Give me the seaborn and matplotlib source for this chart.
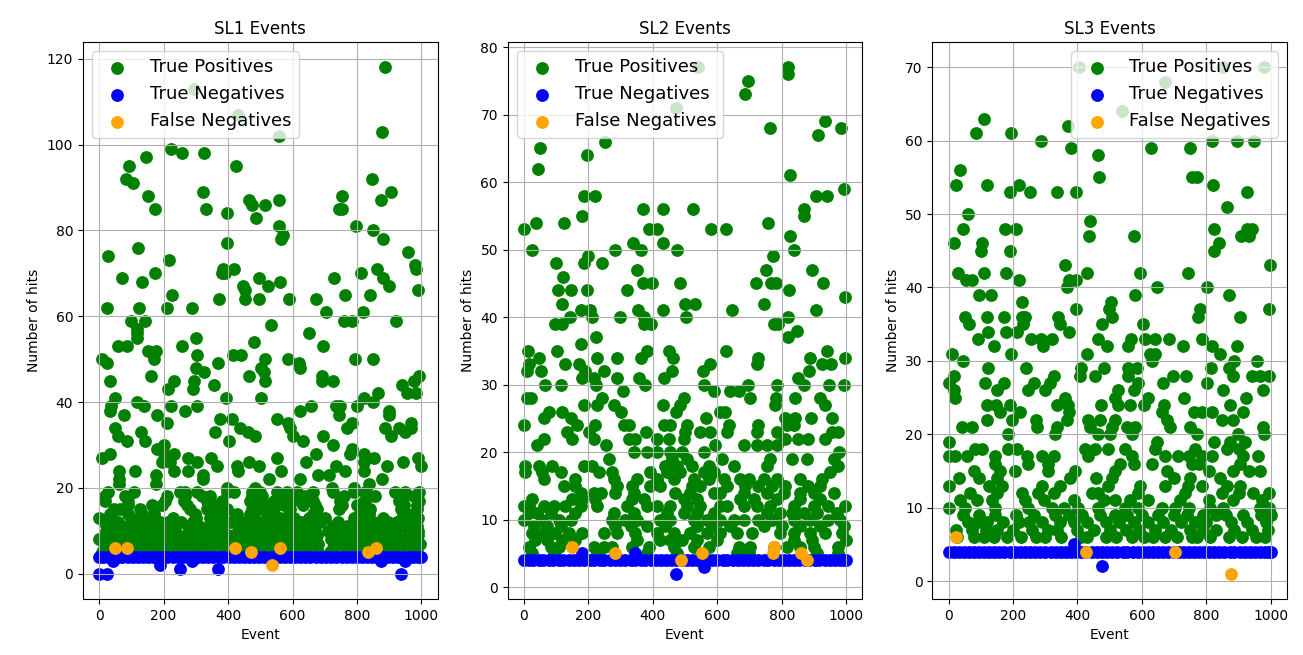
import pandas as pd
import matplotlib
matplotlib.use("Agg")
import matplotlib.pyplot as plt
import seaborn as sns

# every list below: hit level, then the events seen at that level
sl1_tp_hits = [118, 113, 107, 103, 102, 99, 98, 97, 95, 92, 91, 89, 88, 87, 86, 85, 84, 83, 81, 80, 79, 78, 77, 76, 75, 74, 73, 72, 71, 70,
               69, 68, 67, 66, 65, 64, 62, 61, 59, 58, 57, 56, 55, 54, 53, 52, 51, 50, 49, 48, 47, 46, 45, 44, 43, 42, 41, 40,
               39, 38, 37, 36, 35, 34, 33, 32, 31, 30, 29, 28, 27, 26, 25, 24, 23, 22, 21, 20,
               19, 18, 17, 16, 15, 14, 13, 12, 11, 10, 9, 8, 7, 6, 5]
sl1_tp_events = [[886], [295], [430], [878], [557], [222], [256, 324], [146], [92, 425], [84, 845], [105], [321, 906], [153, 755],
                 [466, 557, 874], [474, 516], [174, 332, 743, 755], [397], [486], [557, 797], [849], [569], [564, 882], [397], [121],
                 [959], [27], [218], [980], [385, 417, 861, 984], [174, 381, 389, 812], [72, 495, 728, 882], [132, 560],
                 [446, 524, 898], [454, 988], [227, 764, 841], [373, 454, 495, 589, 674], [24, 125, 210, 288], [703, 818],
                 [100, 142, 759, 785, 922], [534], [117], [117, 650], [117, 300], [479], [60, 85, 256, 696], [153, 178],
                 [304, 414, 440], [9, 169, 516, 585, 793, 849], [24, 369, 619], [300, 503, 624], [324, 511], [161, 464, 691, 993],
                 [34, 231, 293, 516, 691, 725, 976], [357, 940], [215, 292], [865, 955, 984], [49, 394, 503, 821], [117, 849],
                 [38, 138, 223, 304, 658, 736, 748, 800], [34, 267, 622, 900], [76, 181, 743, 900], [375, 411, 552],
                 [210, 586, 785, 968], [49, 436, 593, 769, 888, 929, 968], [129, 361, 461, 948], [60, 484, 603, 696, 906],
                 [85, 142, 403, 634], [202, 725], [181, 785], [34, 202, 231, 674, 777, 821], [9, 275, 348, 552, 854, 988],
                 [195, 219, 303, 464, 642, 821, 943], [365, 427, 495, 736, 893, 997], [63, 112, 231, 275, 430, 564, 764, 821],
                 [175, 321, 680, 712], [63, 321, 526, 624, 878], [63, 175, 836], [396, 484, 722, 790],
                 [29, 107, 251, 266, 303, 396, 417, 474, 500, 552, 583, 614, 665, 727, 790, 826, 919, 950, 992],
                 [19, 80, 210, 267, 319, 345, 474, 505, 572, 624, 640, 759, 841, 857, 945, 976],
                 [19, 91, 205, 262, 334, 381, 469, 541, 598, 665, 748, 821, 929, 992],
                 [90, 195, 163, 272, 339, 365, 484, 521, 572, 634, 671, 753, 800, 945, 986],
                 [45, 65, 127, 169, 283, 334, 396, 474, 505, 541, 593, 676, 743, 810, 841, 935, 986],
                 [34, 91, 132, 169, 298, 365, 427, 469, 531, 588, 665, 810, 836, 955],
                 [0, 40, 100, 170, 230, 300, 345, 380, 420, 480, 520, 560, 605, 650, 700, 790, 830, 880, 940, 990],
                 [15, 60, 120, 155, 190, 215, 255, 290, 350, 395, 410, 445, 495, 540, 580, 625, 640, 685, 740, 800, 850, 895, 925, 950, 975],
                 [25, 70, 105, 135, 175, 225, 275, 310, 340, 385, 455, 470, 510, 550, 600, 660, 725, 770, 815, 860, 885, 940, 985],
                 [20, 50, 90, 125, 160, 195, 235, 280, 320, 355, 380, 430, 460, 490, 525, 570, 615, 640, 670, 710, 755, 790, 830, 860, 910, 960, 990],
                 [30, 60, 85, 110, 150, 185, 215, 245, 290, 330, 365, 400, 445, 480, 510, 555, 590, 630, 650, 675, 735, 765, 800, 840, 870, 920, 960, 990],
                 [0, 25, 55, 80, 120, 150, 180, 230, 265, 300, 345, 375, 410, 440, 470, 500, 535, 565, 605, 660, 720, 750, 780, 810, 850, 880, 915, 945, 975],
                 [15, 40, 70, 100, 130, 165, 200, 240, 270, 310, 335, 360, 395, 425, 460, 490, 520, 550, 580, 615, 640, 680, 735, 765, 800, 830, 860, 895, 930, 965, 995],
                 [20, 45, 75, 115, 140, 175, 205, 250, 285, 320, 350, 385, 410, 450, 480, 515, 540, 570, 605, 630, 665, 725, 755, 785, 815, 845, 880, 905, 940, 975],
                 [10, 35, 60, 95, 125, 155, 190, 225, 260, 290, 325, 360, 390, 420, 455, 485, 510, 545, 575, 600, 655, 680, 715, 745, 790, 820, 855, 890, 925, 950, 985]]
sl1_tn_hits = [4, 3, 2, 1, 0]
sl1_tn_events = [[0, 13, 27, 44, 58, 71, 90, 104, 121, 135, 152, 166, 183, 197, 212, 230, 244, 261, 275, 292, 306, 322, 338, 353, 371, 385,
                  402, 418, 433, 450, 464, 481, 497, 512, 529, 544, 560, 577, 591, 608, 623, 640, 655, 672, 688, 703, 720, 735, 752, 768,
                  783, 800, 816, 830, 848, 863, 880, 895, 912, 928, 943, 960, 975, 990, 1000],
                 [42, 288, 873, 950], [189], [251, 370], [0, 24, 935]]
sl1_fn_hits = [6, 5, 2]
sl1_fn_events = [[48, 88, 422, 560, 858], [471, 833], [536]]

sl2_tp_hits = [77, 76, 75, 73, 71, 69, 68, 67, 66, 65, 64, 62, 61, 59, 58, 56, 55, 54, 53, 52, 51, 50, 49, 48, 47, 46, 45, 44, 43, 42, 41, 40,
               39, 38, 37, 36, 35, 34, 33, 32, 31, 30, 29, 28, 27, 26, 25, 24, 23, 22, 21, 20,
               19, 18, 17, 16, 15, 14, 13, 12, 11, 10, 9, 8, 7, 6, 5]
sl2_tp_events = [[541, 821], [818], [694], [687], [472], [935], [764, 983], [914], [253], [50], [195], [45], [826], [992],
                 [188, 221, 905, 940], [370, 431, 525, 870], [182, 870], [37, 126, 759], [0, 389, 413, 581, 626], [826],
                 [338, 431], [25, 284, 363, 475, 837], [200, 773], [101, 186, 244], [350, 751, 893], [122],
                 [370, 398, 483, 719, 766, 781, 927], [105, 147, 195, 320, 824], [996], [118, 501, 532, 744],
                 [176, 205, 353, 431, 647, 906], [143, 211, 297, 372, 504, 821],
                 [98, 119, 372, 393, 775, 790], [847], [224, 818], [176],
                 [12, 103, 382, 449, 627, 940], [47, 227, 289, 362, 463, 728, 888, 995],
                 [15, 129, 170, 578, 723, 925, 953], [10, 54, 191, 250, 460, 556, 886], [181, 217, 289, 356, 436, 849],
                 [67, 114, 224, 377, 558, 694, 785, 870, 948, 992], [307, 589, 641, 666],
                 [10, 21, 243, 496, 702, 782, 842, 919], [188, 227, 279, 431, 486, 780, 935], [78, 119, 300, 472, 610, 625],
                 [62, 145, 566, 811, 842, 890, 955], [0, 165, 222, 310, 325, 434, 455, 506, 635, 728, 816, 837],
                 [134, 201, 378, 501, 547, 578, 630, 723, 785, 955, 976], [62, 150, 217, 325, 346, 413, 449, 496, 811, 849, 883, 935],
                 [41, 256, 594, 682, 723, 754, 785], [341, 382, 413, 455, 491, 558, 979],
                 [263, 460, 506, 615, 764, 832, 878, 961],
                 [5, 46, 88, 186, 212, 439, 475, 522, 573, 651, 754, 976],
                 [5, 57, 114, 232, 274, 392, 444, 486, 558, 589, 950],
                 [62, 160, 279, 351, 413, 465, 527, 573, 620, 671, 697, 744, 785, 857, 925],
                 [124, 160, 289, 336, 392, 423, 522, 547, 630, 687, 728, 770, 811, 883, 919],
                 [176, 217, 238, 284, 341, 470, 517, 589, 610, 682, 754, 806, 857, 899, 961],
                 [26, 150, 181, 222, 336, 372, 496, 537, 671, 713, 785, 857, 919],
                 [0, 15, 62, 93, 129, 176, 227, 320, 382, 413, 455, 506, 547, 610, 630, 682, 723, 764, 837, 899, 945, 997],
                 [15, 41, 83, 160, 279, 341, 444, 496, 537, 589, 754, 795, 832, 868, 909, 971],
                 [0, 57, 108, 145, 274, 315, 351, 423, 455, 527, 568, 610, 651, 682, 728, 770, 837, 888, 945, 981],
                 [31, 72, 114, 284, 331, 382, 439, 537, 584, 641, 744, 801, 857, 919, 992],
                 [26, 62, 98, 140, 181, 248, 289, 346, 413, 465, 517, 568, 610, 661, 708, 795, 837, 888, 935, 987],
                 [36, 72, 119, 160, 351, 423, 455, 491, 537, 599, 837, 893, 1000],
                 [15, 83, 108, 217, 248, 274, 336, 387, 465, 527, 573, 666, 702, 775, 816, 857, 899, 976],
                 [26, 93, 227, 382, 475, 661, 697, 909, 976]]
sl2_tn_hits = [5, 4, 3, 2]
sl2_tn_events = [[181, 346],
                 [0, 15, 29, 46, 60, 77, 92, 108, 123, 140, 156, 171, 188, 204, 219, 236, 250, 267, 283, 298, 315, 331, 346, 363, 377, 394,
                  410, 425, 442, 458, 473, 490, 505, 521, 538, 552, 569, 585, 600, 617, 631, 648, 664, 679, 696, 712, 727, 744, 758, 775,
                  791, 806, 823, 838, 854, 871, 885, 902, 917, 933, 950, 964, 981, 993, 1000],
                 [560], [473]]
sl2_fn_hits = [6, 5, 4]
sl2_fn_events = [[151, 777], [284, 553, 772, 861], [488, 878]]

sl3_tp_hits = [70, 68, 64, 63, 62, 61, 60, 59, 58, 56, 55, 54, 53, 51, 50, 49, 48, 47, 46, 45, 43, 42, 41, 40, 39, 38, 37, 36,
               35, 34, 33, 32, 31, 30, 29, 28, 27, 26, 25, 24, 23, 22, 21, 20, 19, 18, 17, 16, 15, 14, 13, 12, 11, 10, 9, 8, 7, 6]
sl3_tp_events = [[406, 851, 980], [672], [538], [109], [370], [85, 195], [288, 817, 894, 948], [380, 627, 748], [463], [36],
                 [467, 755, 772], [24, 118, 219, 821], [191, 252, 338, 394, 927], [865], [60], [439],
                 [44, 174, 209, 825, 925, 941], [435, 574, 906, 931], [17, 105, 838], [101, 191, 825], [362, 997],
                 [28, 110, 179, 429, 595, 744], [54, 72, 219, 374, 394], [366, 646, 801], [96, 131, 580, 869], [227, 504],
                 [396, 499, 781, 993], [52, 118, 171, 227, 238, 341, 507, 773, 903],
                 [64, 232, 346, 476, 602], [122, 179, 212, 374], [90, 256, 288, 321, 463, 567, 610, 641, 683, 786],
                 [142, 293, 491, 556, 727, 817, 894], [12, 194, 431, 626, 641, 843], [44, 631, 886, 957],
                 [121, 240, 411, 483, 558, 584, 814, 871], [16, 326, 409, 455, 558, 695, 736, 884, 941, 967, 993],
                 [0, 114, 171, 264, 315, 589, 664, 801], [18, 150, 248, 300, 527, 574, 850, 976], [21, 362, 517, 618, 729, 922],
                 [119, 147, 191, 336, 372, 473, 527, 564, 605, 667, 874], [160, 222, 374, 662, 760, 786, 817, 912],
                 [119, 196, 272, 367, 434, 470, 517, 677, 848, 884], [41, 72, 274, 336, 439, 507, 553, 579, 686, 748, 977],
                 [186, 331, 465, 501, 569, 770, 898, 979], [3, 646, 822, 874, 920],
                 [83, 103, 186, 212, 424, 455, 496, 548, 641, 765, 863, 900],
                 [0, 19, 57, 145, 243, 290, 326, 434, 569, 672, 713, 745, 786, 817, 915, 960],
                 [145, 248, 310, 533, 574, 631, 755, 776, 905],
                 [78, 160, 207, 310, 393, 517, 677, 807, 882, 931, 965],
                 [31, 93, 150, 377, 457, 507, 698, 750, 843],
                 [0, 124, 165, 290, 346, 496, 595, 672, 744, 786, 863, 905],
                 [67, 150, 227, 279, 326, 445, 465, 589, 734, 848, 900, 946, 993],
                 [36, 88, 134, 238, 295, 388, 481, 517, 564, 620, 719, 807, 884, 972],
                 [0, 52, 145, 248, 321, 357, 403, 465, 548, 589, 662, 703, 745, 810, 853, 967, 993],
                 [45, 95, 145, 210, 265, 330, 375, 415, 470, 515, 555, 600, 650, 700, 740, 790, 830, 860, 915, 970, 1000],
                 [60, 90, 120, 170, 220, 250, 290, 345, 390, 430, 490, 530, 575, 620, 665, 720, 765, 800, 875, 925, 985],
                 [23, 72, 115, 150, 200, 260, 310, 335, 400, 450, 500, 550, 590, 640, 690, 750, 790, 830, 885, 940, 990],
                 [25, 78, 110, 140, 180, 225, 270, 300, 350, 410, 430, 490, 520, 570, 605, 635, 670, 710, 755, 770, 810, 870, 910, 955, 982]]
sl3_tn_hits = [5, 4, 2]
sl3_tn_events = [[388],
                 [0, 16, 31, 47, 62, 79, 94, 110, 127, 141, 158, 173, 190, 206, 221, 238, 252, 269, 285, 300, 317, 333, 348, 365, 379, 396,
                  412, 427, 444, 460, 475, 492, 507, 523, 540, 554, 571, 587, 602, 619, 633, 650, 666, 681, 698, 714, 729, 746, 760, 777,
                  793, 808, 825, 840, 856, 873, 887, 904, 919, 935, 952, 966, 983, 994, 1000],
                 [476]]
sl3_fn_hits = [6, 4, 1]
sl3_fn_events = [[24], [427, 703], [877]]

titles = ["SL1 Events", "SL2 Events", "SL3 Events"]
legend_locs = ["upper left", "upper left", "upper right"]
series_labels = ["True Positives", "True Negatives", "False Negatives"]
series_colors = ["green", "blue", "orange"]


def to_frame(hits, events):
    rows = [(e, h) for h, level in zip(hits, events) for e in level]
    return pd.DataFrame(rows, columns=["event", "hits"])


panels = [
    [to_frame(sl1_tp_hits, sl1_tp_events), to_frame(sl1_tn_hits, sl1_tn_events), to_frame(sl1_fn_hits, sl1_fn_events)],
    [to_frame(sl2_tp_hits, sl2_tp_events), to_frame(sl2_tn_hits, sl2_tn_events), to_frame(sl2_fn_hits, sl2_fn_events)],
    [to_frame(sl3_tp_hits, sl3_tp_events), to_frame(sl3_tn_hits, sl3_tn_events), to_frame(sl3_fn_hits, sl3_fn_events)],
]

fig, axes = plt.subplots(1, 3, figsize=(13.03, 6.55), dpi=100)
fig.subplots_adjust(left=83 / 1303, right=1287 / 1303, top=1 - 42 / 655, bottom=1 - 599 / 655, wspace=70 / 354)

for ax, frames, title, loc in zip(axes, panels, titles, legend_locs):
    for df, label, color in zip(frames, series_labels, series_colors):
        sns.scatterplot(data=df, x="event", y="hits", color=color, s=85, linewidth=0, label=label, ax=ax)
    ax.set_title(title)
    ax.set_xlabel("Event")
    ax.set_ylabel("Number of hits")
    ax.grid(True)
    ax.legend(loc=loc, fontsize=13)

fig.savefig("out.png", dpi=100)
